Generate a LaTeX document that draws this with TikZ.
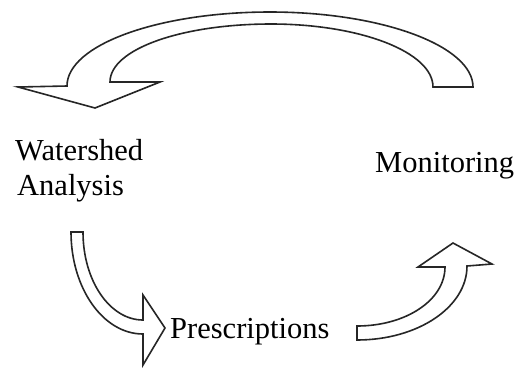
\documentclass[tikz,border=0pt]{standalone}
\usepackage{fontspec}
\setmainfont{Liberation Serif}
\begin{document}
\begin{tikzpicture}[x=1pt,y=-1pt,
  bigarrow/.style={draw=black!85,line width=1.6pt,fill=white,line join=miter},
  lbl/.style={inner sep=0pt,anchor=base west,font=\fontsize{30.5}{34}\selectfont}]
\fill[white] (0,0) rectangle (517,368);
% top curved arrow (Monitoring -> Watershed Analysis)
\draw[bigarrow] (473,87)
  .. controls (473,46) and (382,12) .. (270,12)
  .. controls (158,12) and (67,45) .. (67,86)
  -- (18,87) -- (95,108) -- (160,82) -- (110,82)
  .. controls (110,49) and (182,24) .. (271,24)
  .. controls (360,24) and (433,52) .. (433,87)
  -- cycle;
% down-right arrow (Watershed Analysis -> Prescriptions)
\draw[bigarrow] (71,232)
  .. controls (71,288) and (103,334) .. (143,334)
  -- (143,365) -- (165,328) -- (143,295) -- (143,320)
  .. controls (110,320) and (83,281) .. (83,232)
  -- cycle;
% up-right arrow (Prescriptions -> Monitoring)
\draw[bigarrow] (357,340)
  .. controls (418,340) and (467,307) .. (467,266)
  -- (492,264) -- (453,243) -- (418,267) -- (445,267)
  .. controls (445,300) and (406,326) .. (357,326)
  -- cycle;
\node[lbl] (ws1) at (15,160) {Watershed};
\node[lbl] (ws2) at (17,195) {Analysis};
\node[lbl] (mon) at (375,172) {Monitoring};
\node[lbl] (pre) at (170,338) {Prescriptions};
\end{tikzpicture}
\end{document}
